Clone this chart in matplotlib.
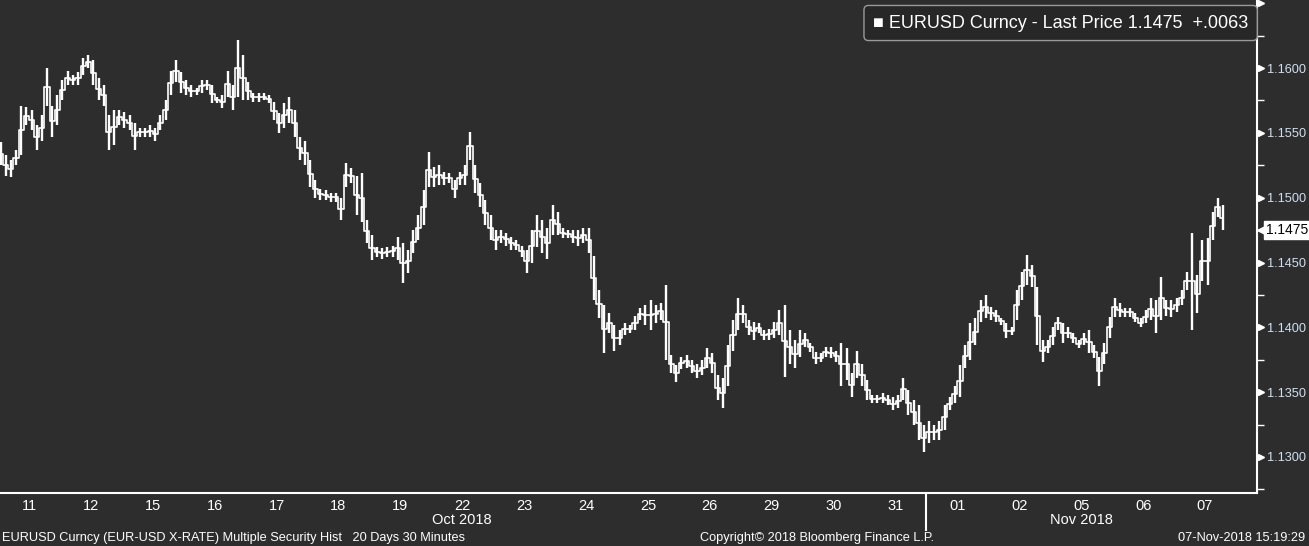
import numpy as np
import matplotlib
matplotlib.use('Agg')
import matplotlib.pyplot as plt
from matplotlib import transforms

plt.rcParams['font.family'] = ['Liberation Sans', 'DejaVu Sans']

# session labels on the x axis (one per trading day)
days = ['11', '12', '15', '16', '17', '18', '19', '22', '23', '24',
        '25', '26', '29', '30', '31', '01', '02', '05', '06', '07']
months = ['Oct 2018', 'Nov 2018']
month_start = [0, 15]
bars_per_day = 12

# bar highs / lows, one row per day
high = [
    1.1543, 1.1533, 1.1529, 1.1537, 1.1571, 1.1570, 1.1568, 1.1556, 1.1564, 1.1600, 1.1571, 1.1579,
    1.1591, 1.1598, 1.1595, 1.1597, 1.1608, 1.1610, 1.1606, 1.1592, 1.1587, 1.1564, 1.1568, 1.1568,
    1.1566, 1.1564, 1.1558, 1.1554, 1.1554, 1.1556, 1.1554, 1.1564, 1.1575, 1.1598, 1.1606, 1.1597,
    1.1591, 1.1587, 1.1585, 1.1591, 1.1591, 1.1587, 1.1578, 1.1579, 1.1598, 1.1587, 1.1622, 1.1610,
    1.1589, 1.1581, 1.1581, 1.1581, 1.1579, 1.1574, 1.1565, 1.1573, 1.1578, 1.1568, 1.1547, 1.1544,
    1.1529, 1.1514, 1.1507, 1.1506, 1.1504, 1.1504, 1.1500, 1.1527, 1.1523, 1.1517, 1.1519, 1.1483,
    1.1471, 1.1462, 1.1461, 1.1462, 1.1463, 1.1470, 1.1465, 1.1460, 1.1475, 1.1487, 1.1506, 1.1535,
    1.1524, 1.1525, 1.1520, 1.1519, 1.1514, 1.1520, 1.1525, 1.1551, 1.1525, 1.1511, 1.1498, 1.1487,
    1.1475, 1.1475, 1.1473, 1.1470, 1.1467, 1.1463, 1.1460, 1.1475, 1.1487, 1.1483, 1.1477, 1.1494,
    1.1489, 1.1477, 1.1475, 1.1475, 1.1475, 1.1477, 1.1477, 1.1455, 1.1429, 1.1417, 1.1411, 1.1402,
    1.1398, 1.1403, 1.1402, 1.1409, 1.1415, 1.1417, 1.1421, 1.1417, 1.1419, 1.1433, 1.1379, 1.1371,
    1.1377, 1.1379, 1.1375, 1.1372, 1.1375, 1.1384, 1.1380, 1.1363, 1.1361, 1.1386, 1.1406, 1.1423,
    1.1417, 1.1406, 1.1404, 1.1403, 1.1398, 1.1399, 1.1404, 1.1413, 1.1417, 1.1398, 1.1390, 1.1398,
    1.1396, 1.1388, 1.1381, 1.1380, 1.1385, 1.1385, 1.1382, 1.1388, 1.1384, 1.1365, 1.1382, 1.1372,
    1.1359, 1.1348, 1.1348, 1.1349, 1.1348, 1.1346, 1.1348, 1.1361, 1.1352, 1.1344, 1.1340, 1.1325,
    1.1328, 1.1325, 1.1328, 1.1340, 1.1346, 1.1355, 1.1371, 1.1386, 1.1403, 1.1407, 1.1421, 1.1425,
    1.1416, 1.1413, 1.1407, 1.1403, 1.1400, 1.1429, 1.1443, 1.1456, 1.1448, 1.1431, 1.1390, 1.1390,
    1.1400, 1.1408, 1.1403, 1.1400, 1.1396, 1.1390, 1.1396, 1.1398, 1.1386, 1.1377, 1.1388, 1.1408,
    1.1423, 1.1419, 1.1415, 1.1415, 1.1411, 1.1407, 1.1413, 1.1423, 1.1421, 1.1439, 1.1421, 1.1421,
    1.1423, 1.1429, 1.1443, 1.1473, 1.1440, 1.1467, 1.1469, 1.1489, 1.1500, 1.1494,
]
low = [
    1.1525, 1.1517, 1.1516, 1.1525, 1.1533, 1.1556, 1.1552, 1.1537, 1.1544, 1.1571, 1.1547, 1.1556,
    1.1575, 1.1587, 1.1587, 1.1587, 1.1595, 1.1600, 1.1587, 1.1575, 1.1571, 1.1537, 1.1541, 1.1556,
    1.1554, 1.1552, 1.1537, 1.1547, 1.1547, 1.1547, 1.1544, 1.1552, 1.1560, 1.1579, 1.1589, 1.1581,
    1.1579, 1.1578, 1.1579, 1.1581, 1.1583, 1.1573, 1.1573, 1.1569, 1.1578, 1.1568, 1.1578, 1.1575,
    1.1575, 1.1574, 1.1574, 1.1575, 1.1573, 1.1560, 1.1550, 1.1554, 1.1558, 1.1547, 1.1529, 1.1525,
    1.1508, 1.1500, 1.1498, 1.1498, 1.1497, 1.1497, 1.1483, 1.1508, 1.1511, 1.1487, 1.1481, 1.1465,
    1.1452, 1.1454, 1.1453, 1.1454, 1.1454, 1.1452, 1.1434, 1.1442, 1.1457, 1.1467, 1.1479, 1.1508,
    1.1508, 1.1510, 1.1510, 1.1511, 1.1500, 1.1510, 1.1510, 1.1529, 1.1504, 1.1493, 1.1479, 1.1467,
    1.1460, 1.1465, 1.1463, 1.1460, 1.1460, 1.1454, 1.1442, 1.1450, 1.1462, 1.1457, 1.1453, 1.1471,
    1.1471, 1.1469, 1.1469, 1.1465, 1.1463, 1.1465, 1.1457, 1.1421, 1.1407, 1.1380, 1.1396, 1.1382,
    1.1386, 1.1394, 1.1396, 1.1398, 1.1406, 1.1402, 1.1398, 1.1403, 1.1406, 1.1375, 1.1365, 1.1358,
    1.1368, 1.1369, 1.1365, 1.1361, 1.1363, 1.1369, 1.1365, 1.1344, 1.1338, 1.1355, 1.1382, 1.1398,
    1.1403, 1.1394, 1.1390, 1.1396, 1.1390, 1.1390, 1.1392, 1.1394, 1.1362, 1.1372, 1.1369, 1.1377,
    1.1385, 1.1381, 1.1372, 1.1373, 1.1377, 1.1376, 1.1373, 1.1355, 1.1359, 1.1346, 1.1361, 1.1355,
    1.1344, 1.1342, 1.1342, 1.1342, 1.1340, 1.1336, 1.1338, 1.1344, 1.1332, 1.1325, 1.1313, 1.1304,
    1.1311, 1.1313, 1.1313, 1.1321, 1.1336, 1.1342, 1.1346, 1.1369, 1.1375, 1.1386, 1.1404, 1.1407,
    1.1406, 1.1404, 1.1402, 1.1392, 1.1394, 1.1406, 1.1421, 1.1433, 1.1431, 1.1386, 1.1373, 1.1380,
    1.1386, 1.1398, 1.1388, 1.1392, 1.1388, 1.1384, 1.1386, 1.1380, 1.1376, 1.1355, 1.1372, 1.1392,
    1.1408, 1.1408, 1.1408, 1.1408, 1.1404, 1.1400, 1.1403, 1.1406, 1.1396, 1.1406, 1.1409, 1.1408,
    1.1412, 1.1417, 1.1429, 1.1398, 1.1411, 1.1436, 1.1433, 1.1467, 1.1485, 1.1475,
]
last_price = 1.1475
change = '+.0063'
major_ticks = [1.130, 1.135, 1.140, 1.145, 1.150, 1.155, 1.160, 1.165]
minor_ticks = [1.1275, 1.1325, 1.1375, 1.1425, 1.1475, 1.1525, 1.1575, 1.1625]

bg = '#2d2d2d'

fig = plt.figure(figsize=(13.09, 5.46), dpi=100, facecolor=bg)
ax = fig.add_axes([0, 1 - 493 / 546, 1257 / 1309, 493 / 546])
ax.set_facecolor(bg)

high = np.array(high)
low = np.array(low)
t = (np.arange(len(high)) + 0.5) / bars_per_day
ax.vlines(t, low, high, color='white', lw=1.7)
ax.plot(t, (high + low) / 2, drawstyle='steps-mid', color='white', lw=1.2)

ax.set_xlim(0.032, 20.34)
ax.set_ylim(1.12722, 1.16525)

for s in ['top', 'left']:
    ax.spines[s].set_visible(False)
for s in ['bottom', 'right']:
    ax.spines[s].set_color('white')
    ax.spines[s].set_linewidth(1.5)

# right price axis
ax.yaxis.tick_right()
ax.set_yticks(major_ticks)
ax.set_yticklabels(['%.4f' % v if v < 1.1625 else '' for v in major_ticks])
ax.set_yticks(minor_ticks, minor=True)
ax.tick_params(axis='y', which='major', length=0, pad=7.5, labelcolor='#cfe0f2', labelsize=9.2)
ax.tick_params(axis='y', which='minor', colors='white', length=5, width=1)
ytr = transforms.blended_transform_factory(ax.transAxes, ax.transData)
ax.plot([1.0] * len(major_ticks), major_ticks, ls='none', marker='>', ms=5, color='white',
        transform=transforms.offset_copy(ytr, fig=fig, x=4, y=0, units='dots'), clip_on=False)

# day axis
ax.set_xticks(np.arange(len(days)) + 0.5)
ax.set_xticklabels(days)
ax.tick_params(axis='x', length=0, pad=4, labelcolor='white', labelsize=10.5)

for i, m in enumerate(months):
    s0 = month_start[i]
    s1 = month_start[i + 1] if i + 1 < len(month_start) else len(days)
    ax.annotate(m, xy=((s0 + s1) / 2, 0), xycoords=('data', 'axes fraction'),
                xytext=(0, -27), textcoords='offset pixels', ha='center', va='center',
                color='white', fontsize=10.5, annotation_clip=False)

# month separator
sep = transforms.blended_transform_factory(ax.transData, ax.transAxes)
ax.plot([month_start[1], month_start[1]], [0, -0.075], color='white', lw=1.5,
        transform=sep, clip_on=False)

# last price tag
ax.annotate('%.4f' % last_price, xy=(1, last_price), xycoords=ytr,
            xytext=(9, 0), textcoords='offset pixels', ha='left', va='center',
            color='black', fontsize=10, annotation_clip=False,
            bbox=dict(boxstyle='square,pad=0.15', fc='white', ec='white'))
ax.plot([1.0], [last_price], marker='<', ms=9, color='white', mec='white',
        transform=transforms.offset_copy(ytr, fig=fig, x=6, y=0, units='dots'),
        clip_on=False)

# legend box
fig.text(873 / 1309, 1 - 23 / 546,
         '\u25A0 EURUSD Curncy - Last Price %.4f  %s' % (last_price, change),
         color='white', fontsize=13, ha='left', va='center',
         bbox=dict(boxstyle='round,pad=0.5,rounding_size=0.25', fc='#272727', ec='#9a9a9a', lw=1))

# footer
fig.text(2 / 1309, 1 - 538 / 546,
         'EURUSD Curncy (EUR-USD X-RATE) Multiple Security Hist   20 Days 30 Minutes',
         color='white', fontsize=9.2, ha='left', va='center')
fig.text(700 / 1309, 1 - 538 / 546, 'Copyright\u00a9 2018 Bloomberg Finance L.P.',
         color='white', fontsize=9.2, ha='left', va='center')
fig.text(1305 / 1309, 1 - 538 / 546, '07-Nov-2018 15:19:29',
         color='white', fontsize=9.2, ha='right', va='center')

fig.savefig('out.png', dpi=100, facecolor=bg)
